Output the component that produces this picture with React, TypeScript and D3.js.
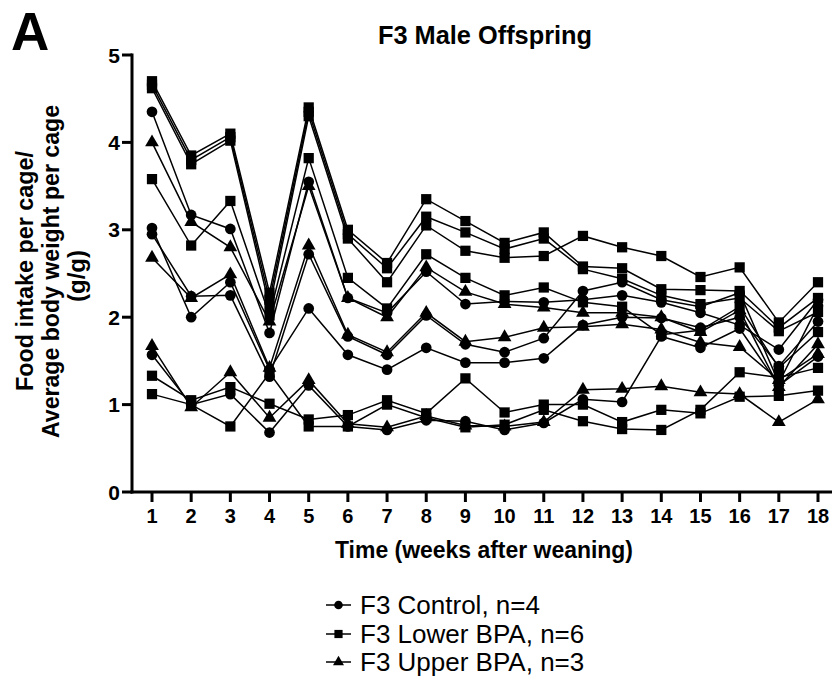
import React from "react";
import * as d3 from "d3";

const weeks = [1, 2, 3, 4, 5, 6, 7, 8, 9, 10, 11, 12, 13, 14, 15, 16, 17, 18];
const yTicks = [0, 1, 2, 3, 4, 5];

// F3 Lower BPA (squares), 6 cages
const lowerBPA1 = [4.70, 3.85, 4.10, 2.28, 4.40, 3.00, 2.62, 3.35, 3.10, 2.85, 2.97, 2.58, 2.56, 2.32, 2.31, 2.30, 1.88, 2.22];
const lowerBPA2 = [4.66, 3.80, 4.06, 2.20, 4.35, 2.95, 2.56, 3.15, 2.97, 2.78, 2.90, 2.55, 2.44, 2.25, 2.15, 2.22, 1.84, 2.06];
const lowerBPA3 = [4.62, 3.75, 4.02, 2.12, 4.30, 2.90, 2.40, 3.05, 2.76, 2.68, 2.70, 2.93, 2.80, 2.70, 2.46, 2.57, 1.94, 2.40];
const lowerBPA4 = [3.58, 2.82, 3.33, 2.02, 3.82, 2.45, 2.10, 2.72, 2.45, 2.25, 2.34, 2.17, 2.12, 1.80, 1.85, 2.12, 1.42, 1.83];
const lowerBPA5 = [1.33, 1.05, 1.20, 1.01, 0.83, 0.88, 1.05, 0.90, 1.30, 0.91, 1.00, 1.00, 0.80, 0.94, 0.90, 1.09, 1.10, 1.16];
const lowerBPA6 = [1.12, 1.00, 0.75, 1.36, 0.75, 0.75, 1.00, 0.85, 0.74, 0.77, 0.94, 0.81, 0.72, 0.71, 0.94, 1.37, 1.31, 1.42];

// F3 Control (circles), 4 cages
const control1 = [4.35, 3.17, 3.01, 1.82, 3.55, 2.22, 2.05, 2.52, 2.15, 2.18, 2.17, 2.20, 2.25, 2.17, 2.05, 1.91, 1.63, 2.20];
const control2 = [3.02, 2.00, 2.40, 1.40, 2.10, 1.57, 1.40, 1.65, 1.48, 1.48, 1.53, 1.91, 2.00, 1.99, 1.88, 2.00, 1.44, 1.95];
const control3 = [2.95, 2.24, 2.25, 1.32, 2.72, 1.78, 1.57, 2.02, 1.69, 1.60, 1.76, 2.30, 2.40, 2.20, 2.12, 2.28, 1.25, 2.13];
const control4 = [1.57, 1.00, 1.12, 0.68, 1.22, 0.75, 0.71, 0.82, 0.81, 0.71, 0.79, 1.06, 1.03, 1.78, 1.65, 1.87, 1.22, 1.55];

// F3 Upper BPA (triangles), 3 cages
const upperBPA1 = [4.00, 3.09, 2.80, 1.95, 3.50, 2.22, 2.00, 2.57, 2.29, 2.15, 2.11, 2.05, 2.05, 2.00, 1.83, 2.08, 1.20, 1.69];
const upperBPA2 = [2.68, 2.22, 2.49, 1.42, 2.82, 1.80, 1.60, 2.05, 1.72, 1.77, 1.88, 1.89, 1.92, 1.86, 1.71, 1.66, 1.28, 1.58];
const upperBPA3 = [1.67, 0.97, 1.37, 0.85, 1.28, 0.78, 0.74, 0.87, 0.76, 0.75, 0.80, 1.17, 1.18, 1.21, 1.14, 1.12, 0.80, 1.06];

const groupLabels = ["F3 Control, n=4", "F3 Lower BPA, n=6", "F3 Upper BPA, n=3"];
const yLabelLines = ["Food intake per cage/", "Average body weight per cage", "(g/g)"];
const controlSeries = [control1, control2, control3, control4];
const lowerSeries = [lowerBPA1, lowerBPA2, lowerBPA3, lowerBPA4, lowerBPA5, lowerBPA6];
const upperSeries = [upperBPA1, upperBPA2, upperBPA3];

const FONT = "'Liberation Sans', Arial, Helvetica, sans-serif";

export default function App() {
  const W = 837;
  const H = 682;
  const x = d3.scaleLinear().domain([1, 18]).range([152, 818]);
  const y = d3.scaleLinear().domain([0, 5]).range([492, 55]);
  const axisX = 132;

  const line = d3
    .line<number>()
    .x((_, i) => x(weeks[i]))
    .y((d) => y(d));

  const circleSym = d3.symbol().type(d3.symbolCircle).size(90)()!;
  const squareSym = d3.symbol().type(d3.symbolSquare).size(105)()!;
  const triSym = d3.symbol().type(d3.symbolTriangle).size(82)()!;

  const groups = [
    { series: controlSeries, sym: circleSym },
    { series: lowerSeries, sym: squareSym },
    { series: upperSeries, sym: triSym },
  ];

  const legendYs = [605, 634, 662];
  // y-label layout: baseline x, start (bottom) y, length
  const yLabelXs = [33, 59, 85];
  const yLabelStarts = [391, 438, 302];
  const yLabelLens = [240, 333, 52];

  return (
    <svg
      width={W}
      height={H}
      style={{ position: "absolute", left: 0, top: 0, background: "#fff" }}
      fontFamily={FONT}
    >
      <rect x={0} y={0} width={W} height={H} fill="#fff" />
      {/* Panel letter */}
      <text x={11} y={50} fontSize={53} fontWeight="bold">A</text>
      {/* Title */}
      <text x={378} y={44} fontSize={25} fontWeight="bold" textLength={214} lengthAdjust="spacingAndGlyphs">
        F3 Male Offspring
      </text>

      {/* Series lines */}
      {groups.map((g, gi) =>
        g.series.map((s, si) => (
          <path key={`l${gi}-${si}`} d={line(s)!} fill="none" stroke="#000" strokeWidth={1.5} />
        ))
      )}
      {/* Markers */}
      {groups.map((g, gi) =>
        g.series.map((s, si) =>
          s.map((v, i) => (
            <path
              key={`m${gi}-${si}-${i}`}
              d={g.sym}
              transform={`translate(${x(weeks[i])},${y(v)})`}
              fill="#000"
            />
          ))
        )
      )}

      {/* Y axis */}
      <line x1={axisX} x2={axisX} y1={y(5) - 1.5} y2={y(0) + 1.5} stroke="#000" strokeWidth={3} />
      {yTicks.map((t) => (
        <g key={`yt${t}`}>
          <line x1={axisX - 10} x2={axisX} y1={y(t)} y2={y(t)} stroke="#000" strokeWidth={3} />
          <text x={120} y={y(t) + 7.5} fontSize={21} fontWeight="bold" textAnchor="end">
            {t}
          </text>
        </g>
      ))}

      {/* X axis */}
      <line x1={axisX - 1.5} x2={832} y1={y(0)} y2={y(0)} stroke="#000" strokeWidth={3} />
      {weeks.map((w) => (
        <g key={`xt${w}`}>
          <line x1={x(w)} x2={x(w)} y1={y(0)} y2={y(0) + 10} stroke="#000" strokeWidth={3} />
          <text x={x(w)} y={523} fontSize={20} fontWeight="bold" textAnchor="middle">
            {w}
          </text>
        </g>
      ))}

      {/* Axis titles */}
      <text x={335} y={558} fontSize={23} fontWeight="bold" textLength={298} lengthAdjust="spacingAndGlyphs">
        Time (weeks after weaning)
      </text>
      {yLabelLines.map((t, i) => (
        <text
          key={`yl${i}`}
          x={0}
          y={0}
          transform={`translate(${yLabelXs[i]},${yLabelStarts[i]}) rotate(-90)`}
          fontSize={23}
          fontWeight="bold"
          textLength={yLabelLens[i]}
          lengthAdjust="spacingAndGlyphs"
        >
          {t}
        </text>
      ))}

      {/* Legend */}
      {groupLabels.map((lab, i) => (
        <g key={`lg${i}`}>
          <line x1={326} x2={351} y1={legendYs[i]} y2={legendYs[i]} stroke="#000" strokeWidth={1.5} />
          <path d={groups[i].sym} transform={`translate(338.5,${legendYs[i]}) scale(0.8)`} fill="#000" />
          <text x={360} y={legendYs[i] + 9} fontSize={26}>
            {lab}
          </text>
        </g>
      ))}
    </svg>
  );
}
